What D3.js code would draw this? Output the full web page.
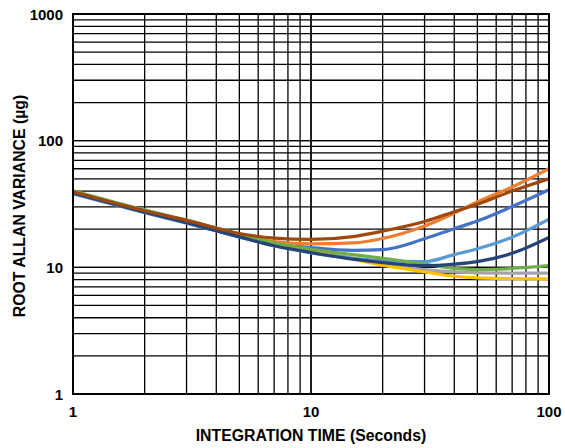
<!DOCTYPE html>
<html><head><meta charset="utf-8">
<script src="https://cdn.jsdelivr.net/npm/d3@7"></script>
<style>body{margin:0;background:#fff}svg{display:block}</style>
</head><body>
<svg id="c" width="565" height="448"></svg>
<script>
const tau = [1, 2, 3, 5, 7, 10, 15, 20, 30, 40, 50, 70, 100];
const seriesBlue      = [38.5, 27.5, 22.8, 17.7, 15.4, 14.3, 13.6, 13.8, 16.8, 20.2, 23.2, 30.2, 41];
const seriesOrange    = [39, 27.8, 23, 18, 16, 15.3, 15.6, 16.9, 21.2, 26.8, 32.8, 43, 60];
const seriesGray      = [39.5, 28, 23.2, 18, 15.3, 13.5, 11.8, 10.7, 9.6, 9.2, 9.05, 9.0, 9.0];
const seriesYellow    = [39.5, 28, 23.2, 18, 15.2, 13.4, 11.6, 10.4, 9.2, 8.5, 8.25, 8.15, 8.1];
const seriesLightBlue = [38, 27, 22.3, 17.3, 14.8, 13, 11.8, 11.3, 11.1, 12.6, 14, 17.3, 24];
const seriesGreen     = [40.3, 28.4, 23.6, 18.3, 15.6, 13.9, 12.6, 11.8, 10.6, 9.8, 9.6, 9.8, 10.3];
const seriesNavy      = [38.5, 27.3, 22.5, 17.4, 14.8, 13.1, 11.6, 10.9, 10.3, 10.6, 11.1, 12.9, 17.2];
const seriesBrown     = [39.5, 28, 23.5, 18.5, 17, 16.6, 17.5, 19.3, 23, 27.5, 31.5, 40, 50];
const seriesColors = ["#4472C4", "#ED7D31", "#A5A5A5", "#FFC000", "#5B9BD5", "#70AD47", "#264478", "#9E480E"];
const xTickLabels = ["1", "10", "100"];
const yTickLabels = ["1", "10", "100", "1000"];
const xTitle = "INTEGRATION TIME (Seconds)";
const yTitle = "ROOT ALLAN VARIANCE (µg)";

const allSeries = [seriesBlue, seriesOrange, seriesGray, seriesYellow, seriesLightBlue, seriesGreen, seriesNavy, seriesBrown];

const svg = d3.select("#c");
const L = 73, R = 549, T = 14, B = 394;
const x = d3.scaleLog().domain([1, 100]).range([L, R]);
const y = d3.scaleLog().domain([1, 1000]).range([B, T]);

const xGrid = [];
for (let d = 1; d < 100; d *= 10) for (let k = 1; k <= 10; k++) xGrid.push(d * k);
const yGrid = [];
for (let d = 1; d < 1000; d *= 10) for (let k = 1; k <= 10; k++) yGrid.push(d * k);

const g = svg.append("g");
g.selectAll(".vg").data(xGrid).join("line")
  .attr("x1", d => x(d)).attr("x2", d => x(d)).attr("y1", T).attr("y2", B)
  .attr("stroke", "#000").attr("stroke-width", 1.3);
g.selectAll(".hg").data(yGrid).join("line")
  .attr("y1", d => y(d)).attr("y2", d => y(d)).attr("x1", L).attr("x2", R)
  .attr("stroke", "#000").attr("stroke-width", 1.3);

const line = d3.line().x((d, i) => x(tau[i])).y(d => y(d)).curve(d3.curveMonotoneX);
svg.append("defs").append("clipPath").attr("id", "clip").append("rect")
  .attr("x", L).attr("y", T).attr("width", R - L).attr("height", B - T);
svg.append("g").attr("clip-path", "url(#clip)").selectAll("path").data(allSeries).join("path")
  .attr("d", line).attr("fill", "none")
  .attr("stroke", (d, i) => seriesColors[i]).attr("stroke-width", 3.2)
  .attr("stroke-linejoin", "round").attr("stroke-linecap", "round");

svg.append("rect").attr("x", L).attr("y", T).attr("width", R - L).attr("height", B - T)
  .attr("fill", "none").attr("stroke", "#000").attr("stroke-width", 2);

const font = "Liberation Sans, Arial, sans-serif";
svg.selectAll(".xt").data(xTickLabels).join("text")
  .attr("x", d => x(+d)).attr("y", 417).attr("text-anchor", "middle")
  .attr("font-family", font).attr("font-weight", "bold").attr("font-size", 15).text(d => d);
svg.selectAll(".yt").data(yTickLabels).join("text")
  .attr("x", 63).attr("y", d => y(+d) + 5.5).attr("text-anchor", "end")
  .attr("font-family", font).attr("font-weight", "bold").attr("font-size", 15).text(d => d);

svg.append("text").attr("x", 311).attr("y", 441).attr("text-anchor", "middle")
  .attr("font-family", font).attr("font-weight", "bold").attr("font-size", 15.8).text(xTitle);
svg.append("text").attr("transform", "translate(25," + ((T + B) / 2 + 2) + ") rotate(-90)")
  .attr("text-anchor", "middle")
  .attr("font-family", font).attr("font-weight", "bold").attr("font-size", 15.8).text(yTitle);
</script>
</body></html>
